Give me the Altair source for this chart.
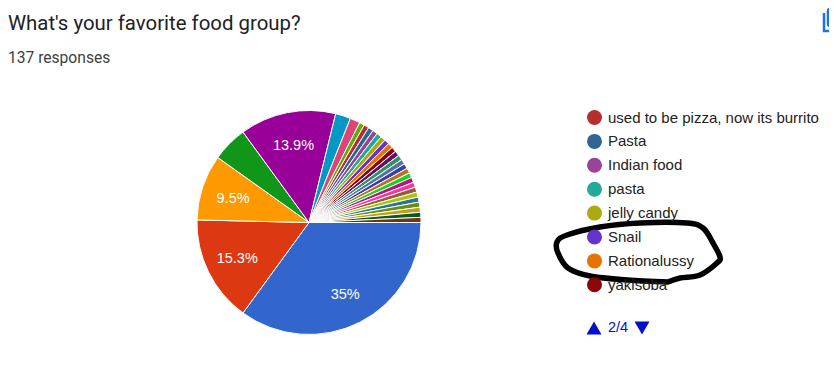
import altair as alt
import pandas as pd

W, H = 821, 361

# Pie slices: responses per answer, in drawing order
names = [
    "Answer 1", "Answer 2", "Answer 3", "Answer 4", "Answer 5", "Answer 6", "Answer 7", "Answer 8",
    "used to be pizza, now its burrito", "Pasta", "Indian food", "pasta", "jelly candy", "Snail",
    "Rationalussy", "yakisoba",
] + [f"Answer {i}" for i in range(17, 32)]
counts = [48, 21, 13, 7, 19, 3, 2, 1] + [1] * 23
colors = [
    "#3366cc", "#dc3912", "#ff9900", "#109618", "#990099", "#0099c6", "#dd4477", "#66aa00",
    "#b82e2e", "#316395", "#994499", "#22aa99", "#aaaa11", "#6633cc", "#e67300", "#8b0707",
    "#651067", "#329262", "#5574a6", "#3b3eac", "#b77322", "#16d620", "#b91383", "#f4359e",
    "#9c5935", "#a9c413", "#2a778d", "#668d1c", "#bea413", "#0c5922", "#743411",
]
slice_labels = ["35%", "15.3%", "9.5%", "", "13.9%"] + [""] * 26
legend_names = names[8:16]

# Hand-drawn loop, picture coordinates
loop_x = [668, 680, 700, 717, 720, 713, 703, 687, 640, 600, 567, 557, 558, 568, 590, 627, 668]
loop_y = [282, 278, 275, 263, 257, 243, 228, 223, 223, 227, 235, 242, 253, 268, 276, 280, 282]

# Texts, picture coordinates
title_text = ["What's your favorite food group?"]
sub_text = ["137 responses"]
pager_text = ["2/4"]

# Copy icon, picture coordinates
icon_x = [824, 824, 837]
icon_y = [13, 31, 31]

xs = alt.Scale(domain=[8, 8 + W], range=[0, W])
ys = alt.Scale(domain=[8, 8 + H], range=[0, H])
X = lambda f: alt.X(f, type="quantitative", scale=xs, axis=None)
Y = lambda f: alt.Y(f, type="quantitative", scale=ys, axis=None)

df = pd.DataFrame({"name": names, "count": counts, "label": slice_labels, "i": range(len(names))})
theta = alt.Theta("count:Q", stack=True, scale=alt.Scale(range=[1.5708, 1.5708 + 6.28319]))

cx, cy = 309 - 8, 222.5 - 8

pie = alt.Chart(df).mark_arc(outerRadius=112, stroke="#ffffff", strokeWidth=1).encode(
    theta=theta,
    order=alt.Order("i:Q"),
    x=alt.value(cx),
    y=alt.value(cy),
    color=alt.Color(
        "name:N",
        scale=alt.Scale(domain=names, range=colors),
        sort=None,
        legend=alt.Legend(
            values=legend_names, title=None, orient="none", legendX=579, legendY=102,
            symbolType="circle", symbolSize=225, symbolStrokeWidth=0, rowPadding=7.9,
            labelFont="Liberation Sans", labelFontSize=15, labelColor="#222222",
            labelOffset=6, padding=0, labelLimit=300,
        ),
    ),
)

labels = alt.Chart(df).mark_text(
    radius=80, dy=1.5, font="Liberation Sans", fontSize=14.5, color="#ffffff"
).encode(
    theta=theta,
    order=alt.Order("i:Q"),
    x=alt.value(cx),
    y=alt.value(cy),
    text="label:N",
)

title = alt.Chart(pd.DataFrame({"t": title_text, "x": [8], "y": [24]})).mark_text(
    align="left", baseline="middle", font="Roboto", fontSize=20.4, color="#202124"
).encode(x=X("x"), y=Y("y"), text="t:N")

sub = alt.Chart(pd.DataFrame({"t": sub_text, "x": [8], "y": [58]})).mark_text(
    align="left", baseline="middle", font="Roboto", fontSize=15.6, color="#3c4043"
).encode(x=X("x"), y=Y("y"), text="t:N")

pager_lbl = alt.Chart(pd.DataFrame({"t": pager_text, "x": [608], "y": [328]})).mark_text(
    align="left", baseline="middle", font="Liberation Sans", fontSize=14.5, color="#0011cc"
).encode(x=X("x"), y=Y("y"), text="t:N")

up = alt.Chart(pd.DataFrame({"x": [594], "y": [328]})).mark_point(
    shape="triangle-up", size=225, filled=True, color="#0011cc", opacity=1
).encode(x=X("x"), y=Y("y"))

down = alt.Chart(pd.DataFrame({"x": [642], "y": [328]})).mark_point(
    shape="triangle-down", size=225, filled=True, color="#0011cc", opacity=1
).encode(x=X("x"), y=Y("y"))

loop = alt.Chart(pd.DataFrame({"x": loop_x, "y": loop_y, "o": range(len(loop_x))})).mark_line(
    color="#000000", strokeWidth=5.5, interpolate="cardinal", strokeCap="round"
).encode(x=X("x"), y=Y("y"), order="o:Q")

icon_back = alt.Chart(pd.DataFrame({"x": icon_x, "y": icon_y, "o": range(3)})).mark_line(
    color="#1a73e8", strokeWidth=2.5
).encode(x=X("x"), y=Y("y"), order="o:Q")

icon_front = alt.Chart(pd.DataFrame({"x": [828], "x2": [845], "y": [9], "y2": [26]})).mark_rect(
    fill=None, stroke="#1a73e8", strokeWidth=2.5, cornerRadius=2
).encode(x=X("x"), x2="x2:Q", y=Y("y"), y2="y2:Q")

chart = alt.layer(
    pie, labels, title, sub, pager_lbl, up, down, icon_back, icon_front, loop
).properties(
    width=W, height=H, padding=0, autosize=alt.AutoSizeParams(type="none"), background="#ffffff"
).configure_view(stroke=None)

chart.save("out.html", embed_options={"renderer": "svg", "actions": False})
